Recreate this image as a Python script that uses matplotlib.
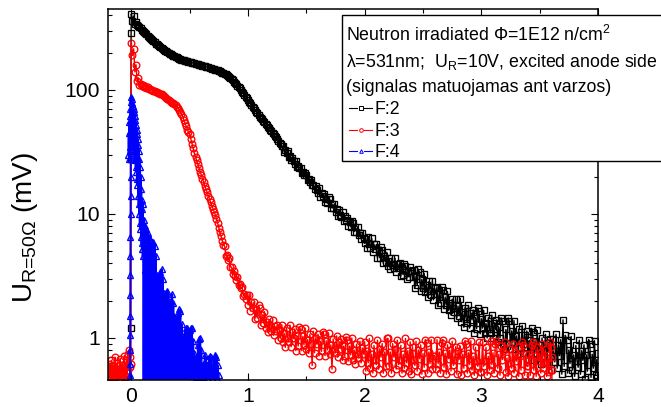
import matplotlib
matplotlib.use("Agg")
import matplotlib.pyplot as plt
import numpy as np
from matplotlib.lines import Line2D
from matplotlib.patches import Rectangle
from matplotlib.ticker import FuncFormatter, LogLocator, MultipleLocator, NullFormatter

plt.rcParams["font.family"] = ["Liberation Sans", "DejaVu Sans"]
plt.rcParams["mathtext.fontset"] = "custom"
plt.rcParams["mathtext.rm"] = "Liberation Sans"
plt.rcParams["mathtext.it"] = "Liberation Sans:italic"
plt.rcParams["mathtext.bf"] = "Liberation Sans:bold"

# F:2 (black squares): rising edge, then samples every 0.01 from t=0
f2_edge_t = [-0.008, -0.006, -0.004, -0.002]
f2_edge_v = [0.3, 1.2, 28, 290]
f2_v = [410, 360, 395, 340, 355, 335, 330, 322, 315, 307, 300, 293, 287, 281, 275, 269, 263,
        257, 252, 247, 242, 237, 233, 229, 225, 221, 218, 214, 211, 208, 205, 202, 199, 196,
        194, 191, 189, 187, 185, 183, 181, 179, 178, 176, 175, 173, 172, 171, 170, 169, 168,
        167, 166, 165, 164, 163, 162, 161, 160, 159, 158, 157, 156, 155, 154, 153, 152, 151,
        150, 149, 148, 147, 146, 145, 144, 142.5, 141, 139.5, 138, 136.5, 135, 133.5, 132,
        130, 128, 125.5, 123, 120, 117, 114, 111, 108.5, 106, 103, 100, 97, 94, 91, 88, 85.5,
        83, 80.5, 78, 75.5, 73, 71, 69, 67, 65, 63, 61, 59.5, 58, 56.5, 55, 53.5, 52, 50.5,
        49, 47.7, 46.5, 45.2, 44, 42.7, 41.5, 40.2, 39, 37.7, 36.5, 35.2,
        35.3, 31.7, 32.8, 30.8, 32.0, 28.8, 29.1, 27.0, 28.3, 26.6, 25.5, 26.5, 23.9, 24.6,
        23.4, 23.7, 21.3, 21.9, 20.5, 21.6, 20.8, 18.7, 19.3, 18.2, 18.8, 17.0, 17.2, 15.9,
        16.7, 15.7,
        14.7, 16.1, 13.7, 14.8, 13.9, 14.5, 12.4, 13.3, 12.2, 13.6, 13.1, 11.2, 12.0, 11.1,
        12.1, 10.4, 10.9, 9.7, 10.8, 9.9, 9.5, 10.4, 8.85, 9.55, 8.97, 9.35, 7.98, 8.6, 7.9,
        8.79, 8.46, 7.22, 7.78, 7.19, 7.88, 6.73, 7.02, 6.29, 7.0, 6.42,
        5.79, 6.33, 5.32, 6.49, 5.69, 5.35, 6.35, 4.91, 5.68, 5.19, 5.68, 4.39, 5.07, 4.44,
        5.42, 5.16, 3.99, 4.62, 4.10, 4.90, 3.82, 4.21, 3.57, 4.39, 3.88, 3.67, 4.39, 3.43,
        3.98, 3.67, 4.04, 3.15, 3.67, 3.24, 3.98, 3.83, 2.98, 3.47, 3.11, 3.72,
        3.45, 3.09, 3.56, 2.52, 3.14, 2.65, 3.58, 3.39, 2.39, 2.98, 2.55, 3.31, 2.33, 2.68,
        2.12, 2.86, 2.41, 2.23, 2.89, 2.03, 2.53, 2.26, 2.59, 1.83, 2.28, 1.92, 2.58, 2.44,
        1.72, 2.14, 1.84, 2.37, 1.67, 1.93, 1.53, 2.06, 1.73, 1.61, 2.08, 1.46,
        1.81, 1.51, 2.08, 1.35, 1.61, 1.22, 1.76, 1.43, 1.32, 1.83, 1.20, 1.59, 1.40, 1.68,
        1.10, 1.46, 1.19, 1.74, 1.64, 1.08, 1.43, 1.20, 1.67, 1.10, 1.31, 1.00, 1.46, 1.19,
        1.10, 1.53, 1.00, 1.33, 1.17, 1.40, 0.92, 1.22, 1.00, 1.45, 1.37, 0.90,
        0.82, 1.17, 0.91, 1.45, 1.36, 0.81, 1.14, 0.92, 1.38, 0.82, 1.04, 0.74, 1.18, 0.92,
        0.83, 1.26, 0.75, 1.06, 0.90, 1.14, 0.68, 0.96, 0.75, 1.20, 1.12, 0.67, 0.95, 0.76,
        1.15, 0.69, 0.87, 0.62, 1.00, 0.78, 0.71, 1.07, 0.64, 0.91, 0.77, 0.98,
        0.55, 0.98, 0.72, 0.64, 1.07, 0.57, 0.88, 0.72, 0.97, 0.51, 1.4, 0.59, 1.05, 0.97,
        0.52, 0.80, 0.62, 1.03, 0.55, 0.73, 0.49, 0.87, 0.65, 0.58, 0.96, 0.51, 0.79, 0.66,
        0.88, 0.47, 0.73, 0.54, 0.97, 0.89, 0.48, 0.74, 0.57, 0.95, 0.50, 0.67, 0.45]

# F:3 (red circles): baseline noise before the pulse (every 0.005), then every 0.01 from t=0
f3_pre_v = [0.55, 0.44, 0.62, 0.48, 0.58, 0.41, 0.66, 0.5, 0.45, 0.6, 0.52, 0.43, 0.7, 0.49,
            0.56, 0.42, 0.63, 0.47, 0.59, 0.51, 0.44, 0.68, 0.53, 0.46, 0.61, 0.4, 0.57, 0.5,
            0.72, 0.45, 0.6, 0.48, 0.66, 0.52, 0.74, 0.55, 0.8, 0.58, 0.7, 0.62]
f3_v = [240, 190, 215, 140, 160, 118, 125, 110, 112, 108, 109, 106, 107, 104, 105, 102, 102,
        100, 100, 98, 98, 97, 96, 95, 94, 93, 92, 90.5, 89, 87, 86, 84, 83, 81, 80, 79, 78,
        76.5, 75, 73.5, 72, 69.5, 67, 64, 61, 57.5, 54, 51, 48, 46, 44, 40.5, 37, 34, 31, 29,
        27, 25.2, 23.5, 22, 20.5, 19.2, 18, 16.9, 15.8, 14.9, 14, 13.2, 12.4, 11.7, 11, 10.4,
        9.8, 9.1, 8.4, 7.7, 7.1, 6.6, 6.1, 5.6,
        5.5, 4.6, 4.7, 4.23, 4.4, 3.72, 3.73, 3.28, 3.49, 3.16, 2.95, 3.11, 2.65, 2.74, 2.53,
        2.57, 2.19, 2.28, 2.06, 2.22,
        1.85, 2.24, 1.65, 1.95, 1.75, 1.94, 1.43, 1.69, 1.45, 1.83, 1.73, 1.28, 1.52, 1.33,
        1.63, 1.21, 1.35, 1.11, 1.41, 1.21, 1.14, 1.40, 1.05, 1.25, 1.14, 1.28, 0.96, 1.15,
        1.00, 1.28,
        0.92, 1.09, 0.84, 1.21, 1.00, 0.93, 1.27, 0.85, 1.11, 0.99, 1.18, 0.79, 1.04, 0.86,
        1.23, 1.17, 0.79, 1.03, 0.88, 1.20, 0.81, 0.97, 0.75, 1.07, 0.89, 0.6, 1.13, 0.76,
        1.00, 0.89, 1.07, 0.72, 0.94, 0.78, 1.12, 1.07, 0.72, 0.95, 0.80, 1.10, 0.74, 0.88,
        0.56, 0.98, 0.82, 0.76, 1.04, 0.70, 0.92, 0.82, 0.98, 0.66, 0.86, 0.71, 1.02, 0.97,
        0.65, 0.86, 0.73, 1.00, 0.67, 0.80, 0.62, 0.89, 0.74, 0.69, 0.94, 0.63, 0.83, 0.74,
        0.93, 0.54, 0.79, 0.63, 0.99, 0.57, 0.74, 0.52, 0.87, 0.67, 0.61, 0.96, 0.56, 0.82,
        0.70, 0.90, 0.52, 0.77, 0.59, 0.99,
        0.99, 0.59, 0.77, 0.52, 0.90, 0.70, 0.82, 0.56, 0.96, 0.61, 0.67, 0.87, 0.52, 0.74,
        0.57, 0.99, 0.63, 0.79, 0.54, 0.93,
        0.51, 0.85, 0.66, 0.60, 0.94, 0.54, 0.80, 0.68, 0.88, 0.51, 0.75, 0.58, 0.97, 0.91,
        0.52, 0.77, 0.62, 0.97, 0.56, 0.72,
        0.72, 0.56, 0.97, 0.62, 0.77, 0.52, 0.91, 0.97, 0.58, 0.75, 0.51, 0.88, 0.68, 0.80,
        0.54, 0.94, 0.60, 0.66, 0.85, 0.51,
        0.79, 0.67, 0.86, 0.50, 0.74, 0.57, 0.95, 0.89, 0.52, 0.76, 0.61, 0.95, 0.55, 0.71,
        0.50, 0.84, 0.65, 0.59, 0.92, 0.53,
        0.53, 0.92, 0.59, 0.65, 0.84, 0.50, 0.71, 0.55, 0.95, 0.61, 0.76, 0.52, 0.89, 0.95,
        0.57, 0.74, 0.50, 0.86, 0.67, 0.79,
        0.92, 0.53, 0.69, 0.49, 0.81, 0.63, 0.57, 0.90, 0.52, 0.76, 0.65, 0.84, 0.49, 0.71,
        0.55, 0.92, 0.87, 0.50, 0.74, 0.59,
        0.59, 0.74, 0.50, 0.87, 0.92, 0.55, 0.71, 0.49, 0.84, 0.65, 0.76, 0.52, 0.90, 0.57,
        0.63, 0.81, 0.49, 0.69, 0.53, 0.92,
        0.85]
f3_end_t = [3.602, 3.604, 3.606]
f3_end_v = [0.7, 0.55, 0.4]

# F:4 (blue triangles): rising edge, ringing head (every 0.0025 from -0.025), ringing tail
f4_edge_t = [-0.012, -0.0115, -0.011, -0.0105, -0.01, -0.0095, -0.009, -0.0085, -0.008,
             -0.0075, -0.007, -0.0065, -0.006, -0.0055]
f4_edge_v = [0.3, 0.5, 0.62, 0.8, 1.05, 1.5, 2.2, 3.2, 4.6, 6.5, 10, 14, 20, 28]
f4_head_v = [30, 45, 28, 55, 32, 62, 35, 70, 40, 80, 88, 42, 84, 38, 78, 36, 74, 33, 70, 31,
             66, 29, 62, 27, 57, 24, 52, 22, 48, 19, 44, 17, 40, 14, 36, 12, 32, 10, 28, 8.5,
             24, 7.5, 20, 6.5, 16, 5.8, 13, 5.2, 11, 4.6]
# tail: peaks at t=0.100, 0.110, ... 0.750 and dips at 0.105, 0.115, ... 0.745
f4_tail_hi = [12, 9, 8, 7.5, 7, 6.5, 6.3, 5.6, 5.8, 5.9,
              5.5, 4.6, 3.2, 2.9, 3.1, 3.4, 3.6, 3.0, 2.3, 2.0,
              2.3, 2.4, 2.0, 1.8, 2.0, 2.25, 1.9, 1.5, 1.3, 1.45,
              1.6, 1.7, 1.65, 1.3, 1.0, 1.0, 1.1, 1.2, 1.2, 1.0,
              1.15, 1.2, 1.2, 0.95, 0.75, 0.65, 0.72, 0.88, 0.98, 1.0,
              0.8, 0.6, 0.62, 0.73, 0.68, 0.55, 0.62, 0.72, 0.7, 0.58,
              0.6, 0.68, 0.73, 0.7, 0.6, 0.5]
f4_tail_lo = [0.3, 3.5, 0.35, 1.8, 0.3, 2.6, 0.4, 1.1, 0.3, 2.2, 0.35, 1.0, 0.3, 1.5, 0.4,
              0.8, 0.3, 1.3, 0.35, 0.7, 0.3, 1.0, 0.4, 0.6, 0.3, 0.9, 0.35, 0.55, 0.3, 0.8,
              0.4, 0.6, 0.3, 0.7, 0.35, 0.5, 0.3, 0.6, 0.4, 0.5, 0.3, 0.6, 0.35, 0.5, 0.3,
              0.48, 0.4, 0.55, 0.3, 0.5, 0.35, 0.48, 0.3, 0.5, 0.4, 0.47, 0.3, 0.5, 0.35,
              0.47, 0.3, 0.5, 0.4, 0.47, 0.3]


def grid(t0, dt, vals):
    return t0 + dt * np.arange(len(vals))


f2_t = np.concatenate([f2_edge_t, grid(0.0, 0.01, f2_v)])
f2_y = np.concatenate([f2_edge_v, f2_v])

f3_t = np.concatenate([grid(-0.2, 0.005, f3_pre_v), grid(0.0, 0.01, f3_v), f3_end_t])
f3_y = np.concatenate([f3_pre_v, f3_v, f3_end_v])

tail = np.empty(len(f4_tail_hi) + len(f4_tail_lo))
tail[0::2] = f4_tail_hi
tail[1::2] = f4_tail_lo
f4_t = np.concatenate([f4_edge_t, grid(-0.025, 0.0025, f4_head_v), grid(0.1, 0.005, tail)])
f4_y = np.concatenate([f4_edge_v, f4_head_v, tail])

W, H = 661, 407
fig = plt.figure(figsize=(W / 100, H / 100), dpi=100)
ax = fig.add_axes([108 / W, 27 / H, 490 / W, 371 / H])

ax.plot(f2_t, f2_y, color="k", lw=1.0, marker="s", ms=4.6, mfc="none", mew=0.95)
ax.plot(f3_t, f3_y, color="r", lw=1.0, marker="o", ms=4.8, mfc="none", mew=0.95)
ax.plot(f4_t, f4_y, color="b", lw=1.4, marker="^", ms=4.8, mfc="none", mew=0.95)

ax.set_yscale("log")
ax.set_xlim(-0.2, 4.0)
ax.set_ylim(0.458, 450)
ax.yaxis.set_major_locator(LogLocator(base=10, numticks=10))
ax.yaxis.set_minor_locator(LogLocator(base=10, subs=np.arange(2, 10), numticks=10))
ax.yaxis.set_major_formatter(FuncFormatter(lambda v, p: "%g" % v))
ax.yaxis.set_minor_formatter(NullFormatter())
ax.xaxis.set_major_locator(MultipleLocator(1))
ax.xaxis.set_minor_locator(MultipleLocator(0.5))
ax.tick_params(which="both", direction="in", top=True, right=True, width=0.8, labelsize=15.2)
ax.tick_params(axis="x", which="major", length=5, pad=5)
ax.tick_params(axis="y", which="major", length=5, pad=6)
ax.tick_params(which="minor", length=3)
for s in ax.spines.values():
    s.set_linewidth(1.1)

fig.text(25 / W, 1 - 228 / H, r"U$_{\text{R=50Ω}}$ (mV)", rotation=90,
         fontsize=20, ha="center", va="center")

# legend box (runs off the right edge, like the original)
fig.add_artist(Rectangle((341.5 / W, 1 - 161.5 / H), (700 - 341.5) / W, 146 / H,
                         transform=fig.transFigure, facecolor="white", edgecolor="black",
                         lw=1.0, clip_on=False))
lines = [r"Neutron irradiated Φ=1E12 n/cm$^{\text{2}}$",
         r"λ=531nm;  U$_{\text{R}}$=10V, excited anode side",
         "(signalas matuojamas ant varzos)"]
for txt, yb in zip(lines, [41, 67.5, 92]):
    fig.text(346 / W, 1 - yb / H, txt, fontsize=12.8, va="baseline")

for lab, col, mk, yb in [("F:2", "k", "s", 113.5), ("F:3", "r", "o", 135.5), ("F:4", "b", "^", 157)]:
    yc = 1 - (yb - 6) / H
    for x1, x2 in [(349, 357), (364, 372)]:
        fig.add_artist(Line2D([x1 / W, x2 / W], [yc, yc], color=col, lw=0.8,
                              transform=fig.transFigure))
    fig.add_artist(Line2D([360.5 / W], [yc], marker=mk, ms=2.6, mfc="none", mec=col, mew=0.7,
                          color=col, transform=fig.transFigure))
    fig.text(375 / W, 1 - yb / H, lab, fontsize=12.8, va="baseline")

plt.savefig("out.png", dpi=100)
